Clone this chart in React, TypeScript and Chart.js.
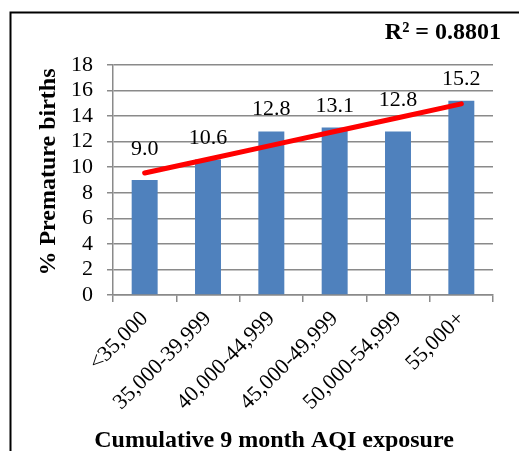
import { useEffect, useRef } from 'react';
import { Chart, registerables } from 'chart.js';

Chart.register(...registerables);

// Exposure bands and the share of premature births in each
const CATEGORIES = [
  '<35,000',
  '35,000-39,999',
  '40,000-44,999',
  '45,000-49,999',
  '50,000-54,999',
  '55,000+',
];
const PREMATURE_PCT = [9.0, 10.6, 12.8, 13.1, 12.8, 15.2];

// Value axis range
const Y_MIN = 0;
const Y_MAX = 18;
const Y_STEP = 2;

const R_SQUARED_LABEL = 'R² = 0.8801';
const X_TITLE = 'Cumulative 9 month AQI exposure';
const Y_TITLE = '% Premature births';

// How far each value label's baseline sits above its bar (px)
const LABEL_LIFT = [25, 16, 16, 16, 25, 16];

const SERIF = "'Times New Roman', 'Liberation Serif', serif";
const GRID = '#8a8a8a';
const BAR_BLUE = '#4f81bd';

// Ordinary least-squares line through the bar values
function linearFit(values: number[]): number[] {
  const n = values.length;
  const xs = values.map((_, i) => i);
  const mx = xs.reduce((a, b) => a + b, 0) / n;
  const my = values.reduce((a, b) => a + b, 0) / n;
  let sxy = 0;
  let sxx = 0;
  xs.forEach((x, i) => {
    sxy += (x - mx) * (values[i] - my);
    sxx += (x - mx) * (x - mx);
  });
  const slope = sxy / sxx;
  return xs.map((x) => my + slope * (x - mx));
}

const barValueLabels = {
  id: 'barValueLabels',
  afterDatasetDraw(chart: any, args: any) {
    if (args.index !== 0) return;
    const { ctx } = chart;
    ctx.save();
    ctx.font = `22px ${SERIF}`;
    ctx.fillStyle = '#000';
    ctx.textAlign = 'center';
    ctx.textBaseline = 'alphabetic';
    args.meta.data.forEach((el: any, i: number) => {
      ctx.fillText(PREMATURE_PCT[i].toFixed(1), el.x, el.y - LABEL_LIFT[i]);
    });
    ctx.restore();
  },
};

const frameAndTitles = {
  id: 'frameAndTitles',
  afterDraw(chart: any) {
    const { ctx } = chart;
    ctx.save();
    // outer frame (runs off the right and bottom edges)
    ctx.strokeStyle = '#000';
    ctx.lineWidth = 2;
    ctx.strokeRect(10.5, 12.5, 700, 700);

    ctx.fillStyle = '#000';
    ctx.font = `bold 24px ${SERIF}`;
    ctx.textBaseline = 'alphabetic';

    ctx.textAlign = 'right';
    ctx.fillText(R_SQUARED_LABEL, 501, 39);

    ctx.textAlign = 'center';
    ctx.fillText(X_TITLE, 274, 447);

    ctx.translate(55, 172);
    ctx.rotate(-Math.PI / 2);
    ctx.fillText(Y_TITLE, 0, 0);
    ctx.restore();
  },
};

export default function App() {
  const canvasRef = useRef<HTMLCanvasElement | null>(null);

  useEffect(() => {
    const canvas = canvasRef.current;
    if (!canvas) return;
    const trend = linearFit(PREMATURE_PCT);

    const chart = new Chart(canvas, {
      type: 'bar',
      data: {
        labels: CATEGORIES,
        datasets: [
          {
            type: 'bar',
            data: PREMATURE_PCT,
            backgroundColor: BAR_BLUE,
            borderWidth: 0,
            categoryPercentage: 1,
            barPercentage: 0.41,
            order: 1,
          },
          {
            type: 'line',
            data: trend,
            borderColor: '#ff0000',
            borderWidth: 5,
            borderCapStyle: 'round',
            borderJoinStyle: 'round',
            pointRadius: 0,
            fill: false,
            order: 0,
          } as any,
        ],
      },
      options: {
        responsive: false,
        animation: false,
        devicePixelRatio: 1,
        layout: { padding: { top: 65, right: 26, left: 0, bottom: 0 } },
        plugins: {
          legend: { display: false },
          tooltip: { enabled: false },
          title: { display: false },
        },
        scales: {
          x: {
            offset: true,
            grid: {
              offset: true,
              drawOnChartArea: false,
              drawTicks: true,
              tickLength: 7,
              color: GRID,
              lineWidth: 1.5,
            },
            border: { display: true, color: GRID, width: 1.5 },
            ticks: {
              autoSkip: false,
              minRotation: 45,
              maxRotation: 45,
              padding: 4,
              color: '#000',
              font: { family: SERIF, size: 22 },
            },
            afterFit(scale: any) {
              scale.height = 156;
            },
          },
          y: {
            min: Y_MIN,
            max: Y_MAX,
            grid: {
              color: GRID,
              lineWidth: 1.5,
              tickLength: 6,
              drawTicks: true,
            },
            border: { display: true, color: GRID, width: 1.5 },
            ticks: {
              stepSize: Y_STEP,
              autoSkip: false,
              padding: 14,
              color: '#000',
              font: { family: SERIF, size: 22, lineHeight: 1 },
            },
            afterFit(scale: any) {
              scale.width = 113;
            },
          },
        },
      },
      plugins: [barValueLabels, frameAndTitles],
    });

    return () => chart.destroy();
  }, []);

  return (
    <div style={{ position: 'fixed', left: 0, top: 0, width: 519, height: 451, background: '#fff' }}>
      <canvas ref={canvasRef} width={519} height={451} style={{ display: 'block' }} />
    </div>
  );
}
